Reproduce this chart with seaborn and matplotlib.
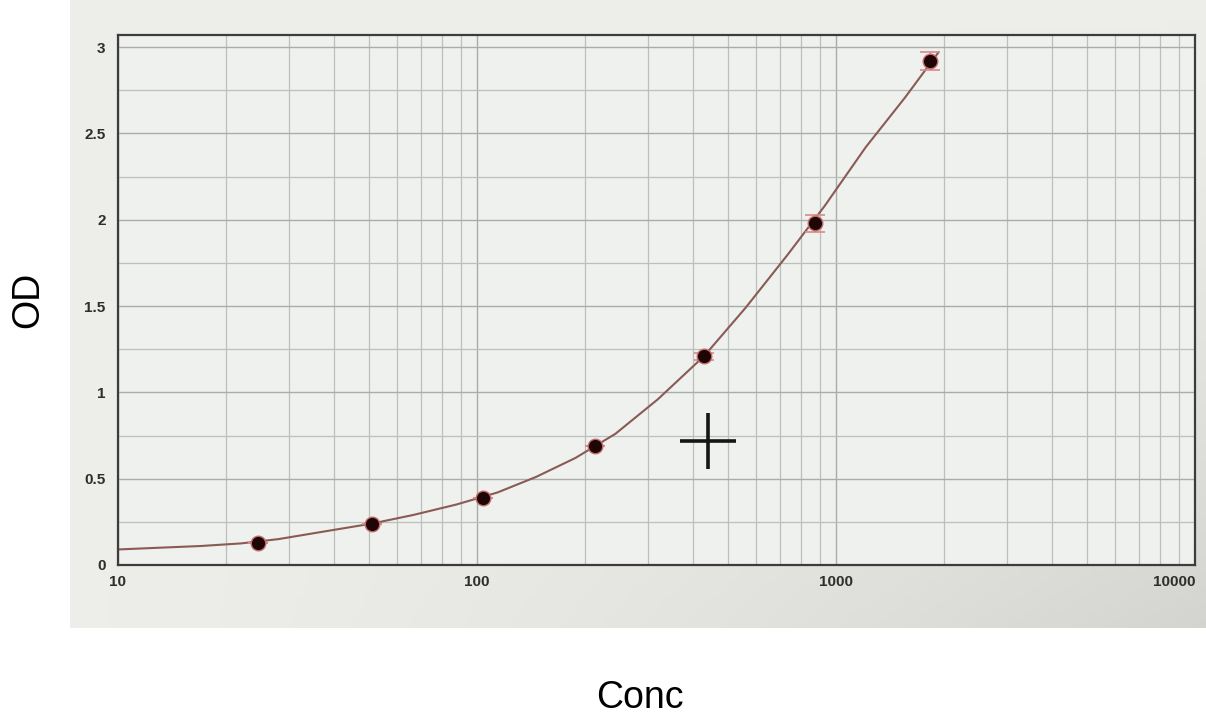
import numpy as np
import matplotlib
matplotlib.use("Agg")
import matplotlib.pyplot as plt
import matplotlib.ticker as mticker
import seaborn as sns

# standards
std_conc = [24.5, 51, 104, 213, 429, 874, 1830]
std_od = [0.13, 0.24, 0.39, 0.69, 1.21, 1.98, 2.92]
std_err = [0.0, 0.0, 0.0, 0.0, 0.02, 0.05, 0.05]

# fitted curve, points
curve_conc = [10, 13, 17, 22, 28, 36.5, 51, 66.5, 87.5, 114, 146, 188, 243, 319,
              429, 560, 735, 930, 1210, 1560, 1930]
curve_od = [0.09, 0.10, 0.11, 0.125, 0.15, 0.19, 0.24, 0.29, 0.35, 0.42, 0.51,
            0.62, 0.76, 0.96, 1.21, 1.49, 1.80, 2.08, 2.42, 2.71, 2.97]

# cursor cross
cursor_conc = [440]
cursor_od = [0.72]

x_ticks = [10, 100, 1000, 10000]
x_tick_labels = ["10", "100", "1000", "10000"]
y_ticks = [0, 0.5, 1, 1.5, 2, 2.5, 3]
y_tick_labels = ["0", "0.5", "1", "1.5", "2", "2.5", "3"]

sns.set_theme(style="white")
plt.rcParams['font.family'] = ['Liberation Sans', 'DejaVu Sans']

W, H = 1206, 719
fig = plt.figure(figsize=(W / 100, H / 100), dpi=100)
fig.patch.set_facecolor("white")

# the photographed screen behind the plot
bg = fig.add_axes([70 / W, 1 - 628 / H, (W - 70) / W, 628 / H])
gx = np.linspace(0, 1, 200)
gy = np.linspace(0, 1, 120)
GX, GY = np.meshgrid(gx, gy)
shade = 0.93 - 0.10 * (GX * GY) ** 1.5
bg.imshow(np.dstack([shade, shade, shade * 0.985]), aspect="auto",
          extent=(0, 1, 0, 1), origin="upper")
bg.axis("off")

ax = fig.add_axes([118 / W, 1 - 565 / H, (1195 - 118) / W, (565 - 35) / H])
ax.set_facecolor("#eef1ee")

ax.set_xscale("log")
ax.set_xlim(10, 10000)
ax.set_ylim(0, 3.07)

ax.xaxis.set_major_locator(mticker.FixedLocator(x_ticks))
ax.xaxis.set_major_formatter(mticker.FixedFormatter(x_tick_labels))
ax.xaxis.set_minor_locator(mticker.LogLocator(base=10, subs=np.arange(2, 10)))
ax.xaxis.set_minor_formatter(mticker.NullFormatter())
ax.yaxis.set_major_locator(mticker.FixedLocator(y_ticks))
ax.yaxis.set_major_formatter(mticker.FixedFormatter(y_tick_labels))
ax.yaxis.set_minor_locator(mticker.MultipleLocator(0.25))

ax.grid(True, which="major", color="#a9ada9", lw=1.0)
ax.grid(True, which="minor", color="#bcc0bc", lw=0.9)
ax.set_axisbelow(True)

for s in ax.spines.values():
    s.set_color("#3c3c3c")
    s.set_linewidth(1.6)

ax.tick_params(which="both", length=0, labelsize=11, labelcolor="#2e2e2e")
ax.tick_params(axis="x", pad=7)
ax.tick_params(axis="y", pad=9)
for lab in ax.get_xticklabels() + ax.get_yticklabels():
    lab.set_fontweight("bold")
ax.get_xticklabels()[-1].set_horizontalalignment("right")

sns.lineplot(x=curve_conc, y=curve_od, ax=ax, color="#8a5a55", lw=1.5,
             estimator=None, sort=False)
ax.errorbar(std_conc, std_od, yerr=std_err, fmt="none", ecolor="#d98a8a",
            elinewidth=1.0, capsize=7, capthick=1.2, zorder=3)
sns.scatterplot(x=std_conc, y=std_od, ax=ax, s=110, color="#1e0606",
                edgecolor="#c46a6a", linewidth=1.0, zorder=4)
ax.plot(cursor_conc, cursor_od, marker="+", markersize=40, mew=2.6,
        color="#151515", ls="none", zorder=5)

ax.set_xlabel("")
ax.set_ylabel("")

fig.text(640 / W, 1 - 698 / H, "Conc", fontsize=27, ha="center", va="center",
         color="black")
fig.text(28 / W, 1 - 300 / H, "OD", fontsize=27, ha="center", va="center",
         rotation=90, color="black")

fig.savefig("out.png", dpi=100, facecolor=fig.get_facecolor())
